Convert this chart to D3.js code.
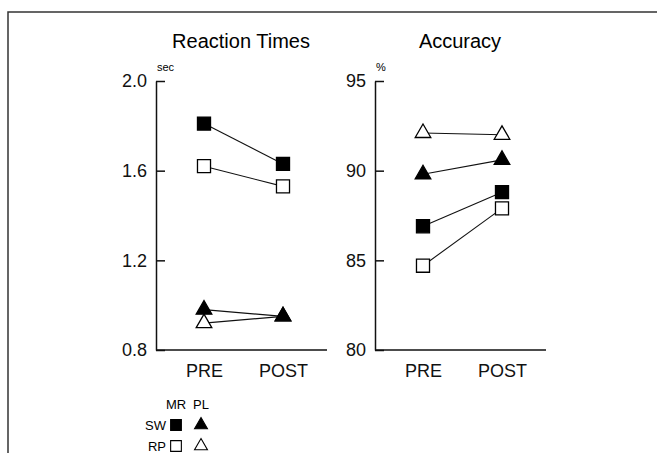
<!DOCTYPE html>
<html>
<head>
<meta charset="utf-8">
<script src="https://cdn.jsdelivr.net/npm/d3@7"></script>
<style>
  body { margin: 0; background: #fff; }
  svg { display: block; font-family: 'Liberation Sans', Arial, sans-serif; }
</style>
</head>
<body>
<svg id="chart"></svg>
<script>
// data
let phases = ['PRE', 'POST']
let groups = ['SW', 'RP']      // filled / open
let conditions = ['MR', 'PL']  // square / triangle

// reaction times (sec)
let rtSwMr = [1.81, 1.63]
let rtRpMr = [1.62, 1.53]
let rtSwPl = [0.98, 0.95]
let rtRpPl = [0.92, 0.95]
let rtTicks = [0.8, 1.2, 1.6, 2.0]

// accuracy (%)
let accSwMr = [86.9, 88.8]
let accRpMr = [84.7, 87.9]
let accSwPl = [89.8, 90.6]
let accRpPl = [92.1, 92.0]
let accTicks = [80, 85, 90, 95]

let width = 657
let height = 453

let svg = d3.select('#chart')
    .attr('width', width)
    .attr('height', height)

// frame (top + left only, like the clipped figure)
svg.append('path')
    .attr('d', `M8,${height} V12 H${width}`)
    .attr('fill', 'none')
    .attr('stroke', '#333')
    .attr('stroke-width', 1.5)

// open series first so filled markers sit on top where they overlap
const seriesOf = (swMr, rpMr, swPl, rpPl) => [
    {group: 'RP', cond: 'MR', values: rpMr},
    {group: 'SW', cond: 'MR', values: swMr},
    {group: 'RP', cond: 'PL', values: rpPl},
    {group: 'SW', cond: 'PL', values: swPl}
]

const symbolFor = cond => cond == 'MR' ? d3.symbolSquare : d3.symbolTriangle

const drawPanel = (opts) => {
    let g = svg.append('g')
    let top = 81, bottom = 350
    let x0 = opts.axisX

    let yScale = d3.scaleLinear()
        .domain(d3.extent(opts.ticks))
        .range([bottom, top])

    let xScale = d3.scalePoint()
        .domain(phases)
        .range([x0 + 48, x0 + 127])

    // title
    g.append('text')
        .attr('x', x0 + opts.titleDx)
        .attr('y', 48)
        .attr('text-anchor', 'middle')
        .attr('font-size', 20)
        .text(opts.title)

    // unit
    g.append('text')
        .attr('x', x0 + 1)
        .attr('y', 71)
        .attr('font-size', 11)
        .text(opts.unit)

    // y axis, ticks point inward
    let yAxis = d3.axisLeft(yScale)
        .tickValues(opts.ticks)
        .tickFormat(opts.format)
        .tickSizeInner(-9)
        .tickSizeOuter(0)
        .tickPadding(9)
    let ya = g.append('g')
        .attr('transform', `translate(${x0}, 0)`)
        .call(yAxis)
    ya.selectAll('path, line').attr('stroke', '#111').attr('stroke-width', 1.5)
    ya.selectAll('text')
        .attr('font-size', 18)
        .attr('font-family', "'Liberation Sans', Arial, sans-serif")
        .attr('fill', '#111')

    // x axis line
    g.append('line')
        .attr('x1', x0).attr('x2', x0 + 171)
        .attr('y1', bottom).attr('y2', bottom)
        .attr('stroke', '#111')
        .attr('stroke-width', 1.5)

    let xAxis = d3.axisBottom(xScale).tickSize(0).tickPadding(14)
    let xa = g.append('g')
        .attr('transform', `translate(0, ${bottom})`)
        .call(xAxis)
    xa.select('.domain').remove()
    xa.selectAll('text')
        .attr('font-size', 18)
        .attr('font-family', "'Liberation Sans', Arial, sans-serif")
        .attr('fill', '#111')

    let series = opts.series
    let line = d3.line()
        .x((d, i) => xScale(phases[i]))
        .y(d => yScale(d))

    g.selectAll('.series-line')
        .data(series)
        .enter()
        .append('path')
        .attr('class', 'series-line')
        .attr('d', s => line(s.values))
        .attr('fill', 'none')
        .attr('stroke', '#111')
        .attr('stroke-width', 1.1)

    series.forEach(s => {
        g.selectAll(null)
            .data(s.values)
            .enter()
            .append('path')
            .attr('transform', (d, i) => `translate(${xScale(phases[i])}, ${yScale(d)})`)
            .attr('d', d3.symbol().type(symbolFor(s.cond)).size(s.cond == 'MR' ? 170 : 105))
            .attr('fill', s.group == 'SW' ? '#000' : '#fff')
            .attr('stroke', '#000')
            .attr('stroke-width', 1.3)
    })
}

drawPanel({
    axisX: 156,
    titleDx: 85,
    title: 'Reaction Times',
    unit: 'sec',
    ticks: rtTicks,
    format: d3.format('.1f'),
    series: seriesOf(rtSwMr, rtRpMr, rtSwPl, rtRpPl)
})

drawPanel({
    axisX: 375,
    titleDx: 85,
    title: 'Accuracy',
    unit: '%',
    ticks: accTicks,
    format: d3.format('d'),
    series: seriesOf(accSwMr, accRpMr, accSwPl, accRpPl)
})

// legend
let legend = svg.append('g').attr('font-size', 13)
let colX = d3.scalePoint().domain(conditions).range([176, 201])
let rowY = d3.scalePoint().domain(['head'].concat(groups)).range([404, 446])

legend.selectAll('.head')
    .data(conditions)
    .enter()
    .append('text')
    .attr('x', d => colX(d))
    .attr('y', rowY('head') + 5)
    .attr('text-anchor', 'middle')
    .text(d => d)

legend.selectAll('.rowlab')
    .data(groups)
    .enter()
    .append('text')
    .attr('x', 166)
    .attr('y', d => rowY(d) + 5)
    .attr('text-anchor', 'end')
    .text(d => d)

groups.forEach(gr => {
    conditions.forEach(c => {
        legend.append('path')
            .attr('transform', `translate(${colX(c)}, ${rowY(gr)})`)
            .attr('d', d3.symbol().type(symbolFor(c)).size(c == 'MR' ? 115 : 72))
            .attr('fill', gr == 'SW' ? '#000' : '#fff')
            .attr('stroke', '#000')
            .attr('stroke-width', 1.1)
    })
})
</script>
</body>
</html>
